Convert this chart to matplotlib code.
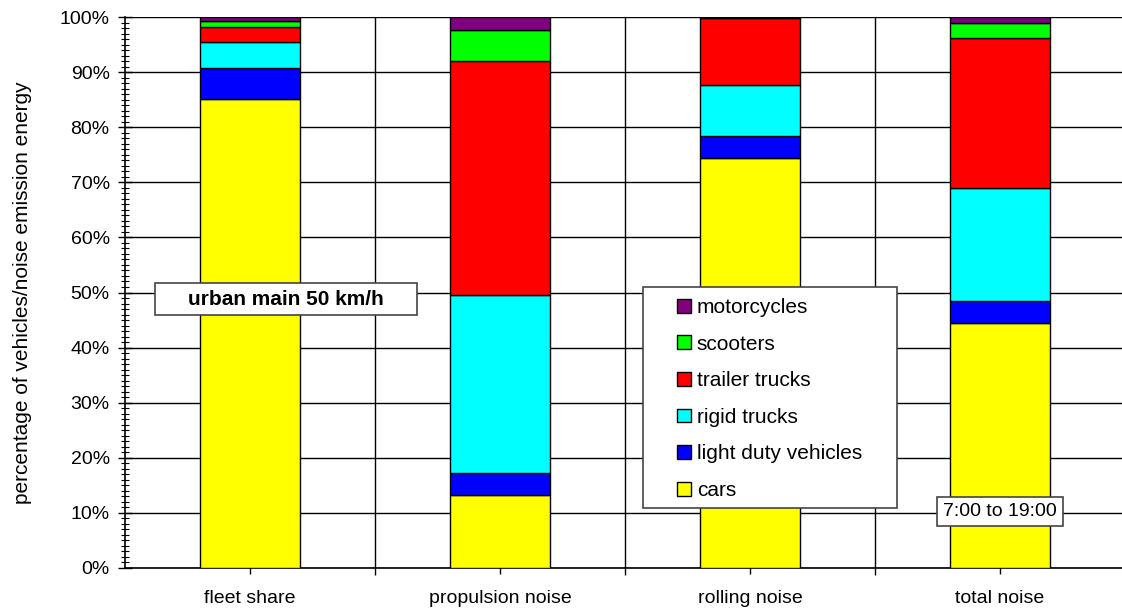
import numpy as np
import matplotlib.pyplot as plt
from matplotlib.patches import Rectangle
from matplotlib.ticker import MultipleLocator, FixedLocator, PercentFormatter

plt.rcParams['font.family'] = ['Liberation Sans', 'DejaVu Sans']

# categories along the x axis
categories = ['fleet share', 'propulsion noise', 'rolling noise', 'total noise']

# shares in percent, stacked bottom to top
cars = [85.1, 13.2, 74.5, 44.5]
light_duty = [5.6, 4.1, 3.9, 4.0]
rigid_trucks = [4.8, 32.2, 9.2, 20.5]
trailer_trucks = [2.7, 42.5, 12.3, 27.1]
scooters = [1.0, 5.6, 0.05, 2.8]
motorcycles = [0.8, 2.4, 0.05, 1.1]

series = [
    ('cars', cars, '#FFFF00'),
    ('light duty vehicles', light_duty, '#0000FF'),
    ('rigid trucks', rigid_trucks, '#00FFFF'),
    ('trailer trucks', trailer_trucks, '#FF0000'),
    ('scooters', scooters, '#00FF00'),
    ('motorcycles', motorcycles, '#800080'),
]

fig = plt.figure(figsize=(11.22, 6.10), dpi=100)
ax = fig.add_axes([125 / 1122, 42 / 610, 1000 / 1122, 551 / 610])

x = np.arange(len(categories))
bottom = np.zeros(len(categories))
handles = []
for name, vals, color in series:
    b = ax.bar(x, vals, 0.4, bottom=bottom, color=color, edgecolor='black',
               linewidth=1.0, label=name, zorder=3)
    handles.append(b)
    bottom += np.array(vals)

ax.set_xlim(-0.5, 3.5)
ax.set_ylim(0, 100)

# y axis ticks
ax.yaxis.set_major_locator(MultipleLocator(10))
ax.yaxis.set_minor_locator(MultipleLocator(1))
ax.yaxis.set_major_formatter(PercentFormatter(decimals=0))
ax.tick_params(axis='y', which='major', direction='inout', length=10, width=1,
               labelsize=14, pad=6)
ax.tick_params(axis='y', which='minor', direction='inout', length=6, width=0.8)

# x axis ticks
ax.set_xticks(x)
ax.set_xticklabels(categories)
ax.xaxis.set_minor_locator(FixedLocator([0.5, 1.5, 2.5]))
ax.tick_params(axis='x', which='major', direction='inout', length=8, width=1,
               labelsize=14, pad=12)
ax.tick_params(axis='x', which='minor', direction='out', length=5, width=1)

ax.grid(axis='y', which='major', color='black', linewidth=1.0, zorder=0)
ax.grid(axis='x', which='minor', color='black', linewidth=1.0, zorder=0)
ax.set_axisbelow(True)

for side in ['top', 'right']:
    ax.spines[side].set_visible(False)
ax.spines['left'].set_linewidth(1.2)
ax.spines['bottom'].set_linewidth(1.2)

ax.set_ylabel('percentage of vehicles/noise emission energy', fontsize=15, labelpad=20)

# legend with its own frame
frame = Rectangle(((643 - 125) / 1000, (568 - 508) / 551), 254 / 1000, 221 / 551,
                  transform=ax.transAxes, facecolor='white', edgecolor='#444444',
                  linewidth=1.2, zorder=4.5)
ax.add_patch(frame)
leg = ax.legend(handles[::-1], [s[0] for s in series][::-1], loc='upper left',
                bbox_to_anchor=((677 - 125) / 1000, (568 - 298) / 551),
                frameon=False, fontsize=15, borderpad=0, borderaxespad=0,
                handlelength=0.65, handleheight=0.65, handletextpad=0.3,
                labelspacing=0.845)
leg.set_zorder(5)

# annotation boxes
box = Rectangle(((155 - 125) / 1000, (568 - 315) / 551), 262 / 1000, 32 / 551,
                transform=ax.transAxes, facecolor='white', edgecolor='#444444',
                linewidth=1.2, zorder=5.5)
ax.add_patch(box)
ax.text(0.161, 0.488, 'urban main 50 km/h', transform=ax.transAxes,
        fontsize=15, fontweight='bold', ha='center', va='center', zorder=6)
ax.text(3.0, 10.3, '7:00 to 19:00', fontsize=14, ha='center', va='center', zorder=6,
        bbox=dict(boxstyle='square,pad=0.3', facecolor='white',
                  edgecolor='#444444', linewidth=1.2))

fig.savefig('out.png', dpi=100)
